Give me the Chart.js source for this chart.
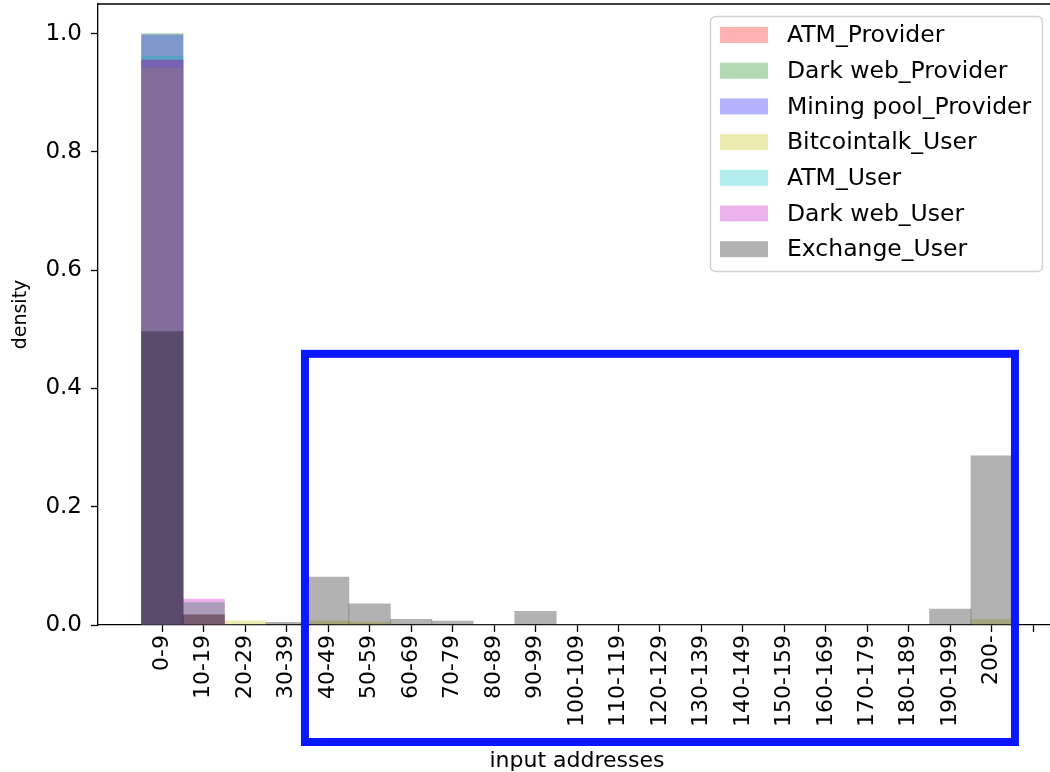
<!DOCTYPE html>
<html>
<head>
<meta charset="utf-8">
<script src="https://cdn.jsdelivr.net/npm/chart.js@4.4.1/dist/chart.umd.min.js"></script>
<style>
  html, body { margin: 0; padding: 0; background: #fff; overflow: hidden; }
  .frame { width: 1050px; height: 772px; overflow: hidden; position: relative; }
  .chart-box { position: absolute; left: 0; top: 0; width: 1080px; height: 790px; }
</style>
</head>
<body>
<div class="frame"><div class="chart-box"><canvas id="histChart"></canvas></div></div>
<script>
// bins (x tick labels), one extra tick at the end has no label
const binLabels = ['0-9', '10-19', '20-29', '30-39', '40-49', '50-59', '60-69', '70-79', '80-89', '90-99',
  '100-109', '110-119', '120-129', '130-139', '140-149', '150-159', '160-169', '170-179', '180-189', '190-199', '200-'];
const xTickPos = [0, 1, 2, 3, 4, 5, 6, 7, 8, 9, 10, 11, 12, 13, 14, 15, 16, 17, 18, 19, 20, 21];
const yTickVals = [0, 0.2, 0.4, 0.6, 0.8, 1.0];

// density per bin
const atmProvider      = [0.955, 0.017, 0, 0, 0, 0, 0, 0, 0, 0, 0, 0, 0, 0, 0, 0, 0, 0, 0, 0, 0];
const darkwebProvider  = [1.0, 0, 0, 0, 0, 0, 0, 0, 0, 0, 0, 0, 0, 0, 0, 0, 0, 0, 0, 0, 0];
const miningProvider   = [0.998, 0, 0, 0, 0, 0, 0, 0, 0, 0, 0, 0, 0, 0, 0, 0, 0, 0, 0, 0, 0];
const bitcointalkUser  = [0.942, 0.038, 0.007, 0, 0.007, 0.005, 0, 0, 0, 0, 0, 0, 0, 0, 0, 0, 0, 0, 0, 0, 0.0096];
const atmUser          = [0.9616, 0.038, 0, 0, 0, 0, 0, 0, 0, 0, 0, 0, 0, 0, 0, 0, 0, 0, 0, 0, 0];
const darkwebUser      = [0.955, 0.044, 0, 0, 0, 0, 0, 0, 0, 0, 0, 0, 0, 0, 0, 0, 0, 0, 0, 0, 0];
const exchangeUser     = [0.496, 0.0174, 0, 0.0045, 0.081, 0.036, 0.0096, 0.0068, 0, 0.023, 0, 0, 0, 0, 0, 0, 0, 0, 0, 0.027, 0.286];

const seriesNames = ['ATM_Provider', 'Dark web_Provider', 'Mining pool_Provider', 'Bitcointalk_User', 'ATM_User', 'Dark web_User', 'Exchange_User'];
const seriesValues = [atmProvider, darkwebProvider, miningProvider, bitcointalkUser, atmUser, darkwebUser, exchangeUser];
const seriesColors = ['rgba(255,0,0,0.3)', 'rgba(0,128,0,0.3)', 'rgba(0,0,255,0.3)', 'rgba(191,191,0,0.3)',
  'rgba(0,191,191,0.3)', 'rgba(191,0,191,0.3)', 'rgba(0,0,0,0.3)'];

const FONT = 'DejaVu Sans';

const datasets = seriesNames.map((name, i) => ({
  label: name,
  data: seriesValues[i].map((v, j) => ({ x: j, y: v })),
  backgroundColor: seriesColors[i],
  borderWidth: 0,
  grouped: false,
  barPercentage: 1,
  categoryPercentage: 1,
  order: seriesNames.length - i, // later series on top, like matplotlib
}));

// top/right spines
const framePlugin = {
  id: 'frame',
  afterDatasetsDraw(chart) {
    const { ctx, chartArea: a } = chart;
    ctx.save();
    ctx.strokeStyle = '#000';
    ctx.lineWidth = 1.3;
    ctx.beginPath();
    ctx.moveTo(a.left, a.top);
    ctx.lineTo(a.right, a.top);
    ctx.lineTo(a.right, a.bottom);
    ctx.stroke();
    ctx.restore();
  }
};

// matplotlib-like legend box in upper right
const legendPlugin = {
  id: 'boxLegend',
  afterDraw(chart) {
    const { ctx, chartArea: a } = chart;
    const right = a.right - 14, top = a.top + 12;
    const w = 332, h = 255, left = right - w;
    ctx.save();
    ctx.beginPath();
    ctx.roundRect(left + 0.5, top + 0.5, w, h, 5);
    ctx.fillStyle = 'rgba(255,255,255,0.8)';
    ctx.fill();
    ctx.strokeStyle = '#d0d0d0';
    ctx.lineWidth = 1.3;
    ctx.stroke();
    ctx.font = '23.5px "' + FONT + '"';
    ctx.textBaseline = 'middle';
    chart.data.datasets.forEach((ds, i) => {
      const cy = top + 19 + i * 35.7;
      ctx.fillStyle = '#fff';
      ctx.fillRect(left + 10, cy - 8, 48, 16);
      ctx.fillStyle = ds.backgroundColor;
      ctx.fillRect(left + 10, cy - 8, 48, 16);
      ctx.fillStyle = '#000';
      ctx.fillText(ds.label, left + 77, cy + 1);
    });
    ctx.restore();
  }
};

// blue highlight rectangle (annotation)
const highlightPlugin = {
  id: 'highlight',
  afterDraw(chart) {
    const { ctx, scales: { x, y }, chartArea: a } = chart;
    const x0 = x.getPixelForValue(3.44), x1 = x.getPixelForValue(20.56);
    const y0 = y.getPixelForValue(0.4585), y1 = a.bottom + 117;
    ctx.save();
    ctx.strokeStyle = '#0a18ff';
    ctx.lineWidth = 8;
    ctx.strokeRect(x0, y0, x1 - x0, y1 - y0);
    ctx.restore();
  }
};

const ctx = document.getElementById('histChart').getContext('2d');
const histChart = new Chart(ctx, {
  type: 'bar',
  data: { datasets: datasets },
  options: {
    responsive: true,
    maintainAspectRatio: false,
    animation: false,
    devicePixelRatio: 1,
    layout: { padding: { top: 4, right: 24, left: 0, bottom: 0 } },
    plugins: {
      legend: { display: false },
      tooltip: { enabled: false },
    },
    scales: {
      x: {
        type: 'linear',
        min: -1.55,
        max: 21.55,
        offset: false,
        grid: { drawOnChartArea: false, drawTicks: true, tickLength: 7, tickColor: '#000', tickWidth: 1.3, offset: false },
        border: { display: true, color: '#000', width: 1.3 },
        afterBuildTicks: s => { s.ticks = xTickPos.map(v => ({ value: v })); },
        afterFit: s => { s.height = 165; s.paddingLeft = 0; s.paddingRight = 0; },
        ticks: {
          autoSkip: false,
          minRotation: 90,
          maxRotation: 90,
          padding: 3,
          color: '#000',
          font: { family: FONT, size: 22 },
          callback: v => binLabels[v] ?? '',
        },
        title: {
          display: true,
          text: 'input addresses',
          color: '#000',
          font: { family: FONT, size: 22 },
          padding: { top: 0, bottom: 16 },
        },
      },
      y: {
        min: 0,
        max: 1.05,
        grid: { drawOnChartArea: false, drawTicks: true, tickLength: 7, tickColor: '#000', tickWidth: 1.3 },
        border: { display: true, color: '#000', width: 1.3 },
        afterBuildTicks: s => { s.ticks = yTickVals.map(v => ({ value: v })); },
        afterFit: s => { s.width = 98; s.paddingTop = 0; s.paddingBottom = 0; },
        ticks: {
          padding: 9,
          color: '#000',
          font: { family: FONT, size: 23 },
          callback: v => v.toFixed(1),
        },
        title: {
          display: true,
          text: 'density',
          color: '#000',
          font: { family: FONT, size: 19 },
          padding: { top: 10, bottom: 0 },
        },
      },
    },
  },
  plugins: [framePlugin, legendPlugin, highlightPlugin],
});
</script>
</body>
</html>
